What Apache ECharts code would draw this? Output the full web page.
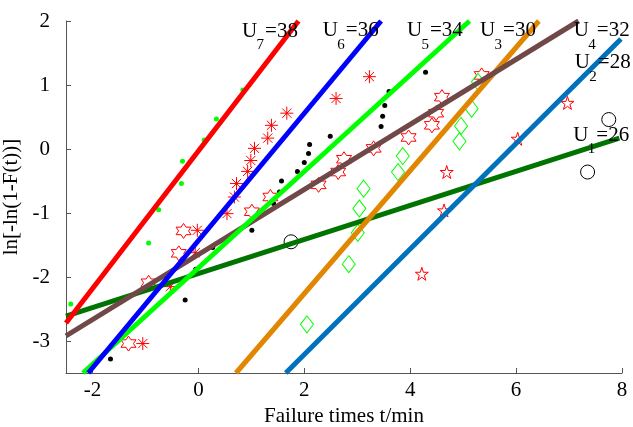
<!DOCTYPE html>
<html>
<head>
<meta charset="utf-8">
<script src="https://cdn.jsdelivr.net/npm/echarts@6/dist/echarts.min.js"></script>
<style>html,body{margin:0;padding:0;background:#fff}#c{width:633px;height:427px}</style>
</head>
<body>
<div id="c"></div>
<script>
// ---- data ----
const xTicks = [-2, 0, 2, 4, 6, 8];
const yTicks = [-3, -2, -1, 0, 1, 2];
const xName = 'Failure times t/min';
const yName = 'ln[-ln(1-F(t))]';

// fitted lines (endpoints, data units)
const lineU1 = [[-2.5, -2.61], [7.95, 0.17]];
const lineU2 = [[1.65, -3.5], [7.98, 1.72]];
const lineU3 = [[0.71, -3.5], [6.43, 2]];
const lineU4 = [[-2.5, -2.92], [7.18, 2]];
const lineU5 = [[-2.18, -3.5], [5.12, 2]];
const lineU6 = [[-2.08, -3.5], [3.45, 2]];
const lineU7 = [[-2.5, -2.72], [1.89, 2]];

// measured points
const ptsGreenDots = [[-2.41,-2.42],[-0.94,-1.47],[-0.75,-0.95],[-0.32,-0.54],[-0.30,-0.19],[0.11,0.14],[0.34,0.47],[0.84,0.92]];
const ptsAsterisk = [[-1.05,-3.04],[-0.53,-2.15],[-0.06,-1.62],[-0.02,-1.27],[0.54,-1.01],[0.68,-0.75],[0.72,-0.54],[0.93,-0.35],[0.99,-0.18],[1.06,0.01],[1.31,0.17],[1.38,0.37],[1.67,0.56],[2.60,0.79],[3.23,1.13]];
const ptsBlackDots = [[-1.66,-3.28],[-0.25,-2.36],[-0.05,-1.88],[0.27,-1.54],[1.01,-1.27],[1.42,-0.85],[1.53,-0.67],[1.57,-0.50],[1.87,-0.35],[2.00,-0.21],[2.08,-0.07],[2.10,0.07],[2.49,0.20],[3.45,0.35],[3.48,0.51],[3.52,0.68],[3.60,0.90],[4.29,1.20]];
const ptsDiamond = [[2.05,-2.74],[2.84,-1.80],[3.01,-1.31],[3.04,-0.93],[3.12,-0.62],[3.77,-0.36],[3.86,-0.11],[4.93,0.12],[4.96,0.36],[5.16,0.63],[5.28,1.05]];
const ptsHexagram = [[-1.32,-3.04],[-0.94,-2.09],[-0.37,-1.63],[-0.28,-1.28],[1.01,-0.98],[1.36,-0.75],[2.27,-0.56],[2.64,-0.36],[2.75,-0.16],[3.31,0.01],[3.97,0.18],[4.41,0.37],[4.49,0.56],[4.60,0.81],[5.35,1.15]];
const ptsPentagram = [[4.22,-1.95],[4.64,-0.96],[4.69,-0.36],[6.03,0.16],[6.97,0.72]];
const ptsCircle = [[1.75,-1.45],[7.35,-0.36],[7.75,0.46]];

// line labels: main, subscript, rest, anchor (data units)
const labelNames = ['U', 'U', 'U', 'U', 'U', 'U', 'U'];
const labelSubs = ['7', '6', '5', '3', '4', '2', '1'];
const labelRest = ['=38', '=36', '=34', '=30', '=32', '=28', '=26'];
const labelAnchors = [[0.825, 1.84], [2.35, 1.85], [3.94, 1.85], [5.32, 1.85], [7.09, 1.85], [7.11, 1.35], [7.08, 0.21]];

// ---- styles ----
const FONT = '"Liberation Serif","Times New Roman",serif';

function starPath(n, rIn) {
  let d = '';
  for (let i = 0; i < 2 * n; i++) {
    const r = i % 2 === 0 ? 1 : rIn;
    const a = -Math.PI / 2 + i * Math.PI / n;
    const x = (r * Math.cos(a) * 10 + 10).toFixed(2);
    const y = (r * Math.sin(a) * 10 + 10).toFixed(2);
    d += (i === 0 ? 'M' : 'L') + x + ',' + y;
  }
  return 'path://' + d + 'Z';
}
const hexPath = starPath(6, 0.577);
const pentPath = starPath(5, 0.382);
const asteriskPath = 'path://M10,0L10,20M0,10L20,10M2.9,2.9L17.1,17.1M2.9,17.1L17.1,2.9';

function lineSeries(d, color, z) {
  return { type: 'line', data: d, symbol: 'none', silent: true, z: z,
    lineStyle: { color: color, width: 5 }, animation: false };
}
function scatter(d, symbol, size, fill, stroke, bw) {
  return { type: 'scatter', data: d, symbol: symbol, symbolSize: size, z: 2, animation: false,
    itemStyle: { color: fill, borderColor: stroke, borderWidth: bw, opacity: 1 } };
}

const chart = echarts.init(document.getElementById('c'), null, { renderer: 'canvas' });
const axisCommon = {
  type: 'value',
  splitLine: { show: false },
  axisLine: { show: true, onZero: false, lineStyle: { color: '#555', width: 1 } },
  axisTick: { show: true, inside: true, length: 5, lineStyle: { color: '#555' } },
  nameLocation: 'middle',
  nameTextStyle: { fontFamily: FONT, fontSize: 21, color: '#000' }
};
chart.setOption({
  backgroundColor: '#fff',
  animation: false,
  grid: { left: 66, right: 11, top: 21, bottom: 54, containLabel: false, outerBoundsMode: 'none' },
  xAxis: Object.assign({}, axisCommon, {
    min: -2.5, max: 8, name: xName, nameGap: 31,
    axisTick: Object.assign({}, axisCommon.axisTick, { customValues: xTicks }),
    axisLabel: { customValues: xTicks, fontFamily: FONT, fontSize: 21, color: '#000', margin: 7 }
  }),
  yAxis: Object.assign({}, axisCommon, {
    min: -3.5, max: 2, name: yName, nameGap: 31,
    axisTick: Object.assign({}, axisCommon.axisTick, { customValues: yTicks }),
    axisLabel: { customValues: yTicks, fontFamily: FONT, fontSize: 21, color: '#000', margin: 16 }
  }),
  series: [
    scatter(ptsGreenDots, 'circle', 5, '#00ff00', '#00ff00', 0),
    scatter(ptsBlackDots, 'circle', 5, '#000', '#000', 0),
    scatter(ptsAsterisk, asteriskPath, 13, 'none', '#ff0000', 1),
    scatter(ptsHexagram, hexPath, 15, 'none', '#ff0000', 1),
    scatter(ptsPentagram, pentPath, 13, 'none', '#ff0000', 1),
    scatter(ptsDiamond, 'diamond', [13, 17], 'none', '#00ff00', 1),
    scatter(ptsCircle, 'circle', 14, 'none', '#000', 1),
    lineSeries(lineU1, '#007400', 3),
    lineSeries(lineU2, '#0072bd', 4),
    lineSeries(lineU3, '#e08600', 5),
    lineSeries(lineU4, '#704848', 6),
    lineSeries(lineU5, '#00ff00', 7),
    lineSeries(lineU6, '#0000ff', 8),
    lineSeries(lineU7, '#ff0000', 9)
  ]
});

// labels placed through the axes' own conversion
const graphics = [];
labelAnchors.forEach(function (a, i) {
  const p = chart.convertToPixel({ gridIndex: 0 }, a);
  graphics.push({ type: 'text', x: p[0], y: p[1], z: 20,
    style: { text: labelNames[i], font: '21px ' + FONT, fill: '#000', verticalAlign: 'middle', align: 'left' } });
  graphics.push({ type: 'text', x: p[0] + 14.5, y: p[1] + 14, z: 20,
    style: { text: labelSubs[i], font: '15px ' + FONT, fill: '#000', verticalAlign: 'middle', align: 'left' } });
  graphics.push({ type: 'text', x: p[0] + 23, y: p[1], z: 20,
    style: { text: labelRest[i], font: '21px ' + FONT, fill: '#000', verticalAlign: 'middle', align: 'left' } });
});
chart.setOption({ graphic: graphics });
</script>
</body>
</html>
